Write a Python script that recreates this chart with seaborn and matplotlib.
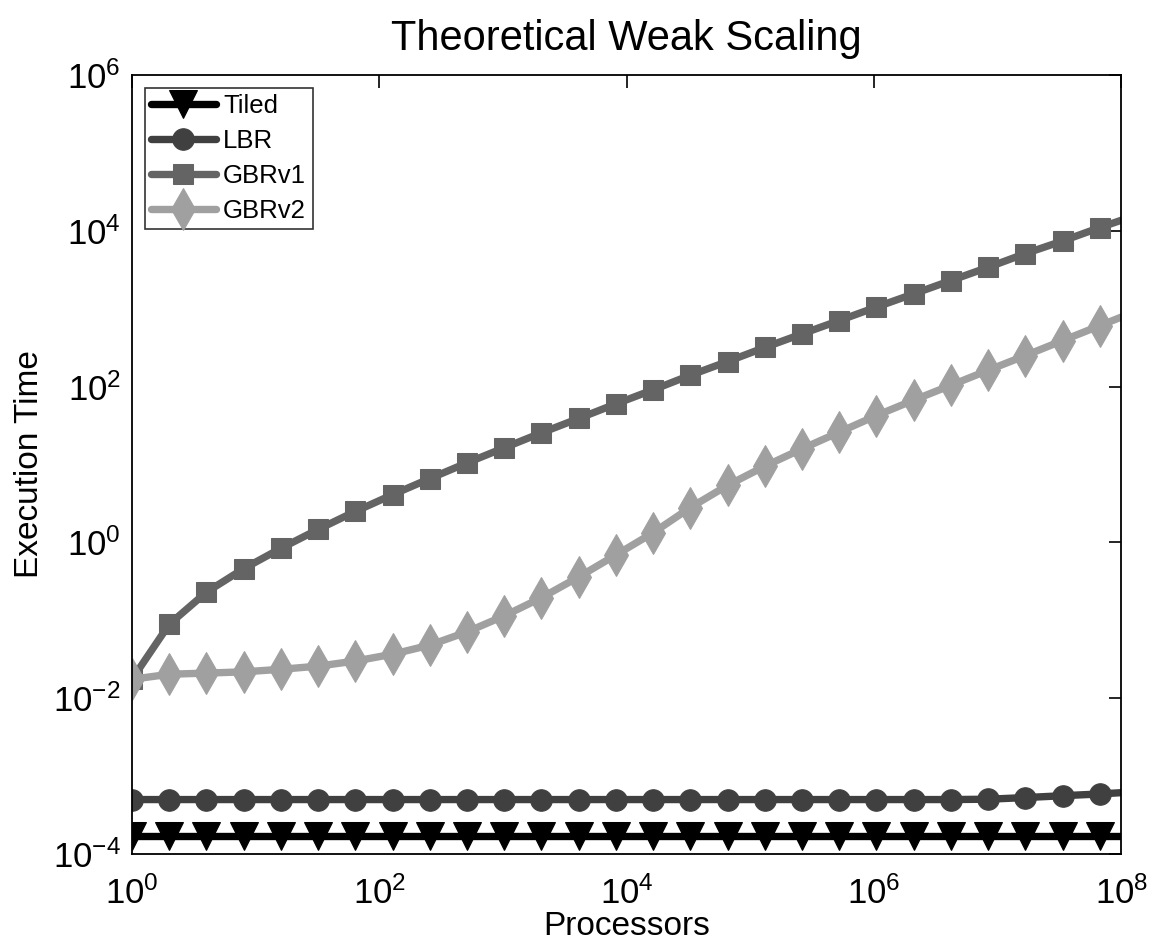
import numpy as np
import pandas as pd
import matplotlib
matplotlib.use("Agg")
import matplotlib.pyplot as plt
from matplotlib.ticker import FuncFormatter
import seaborn as sns

# ----------------------------------------------------------
# DATA
# ----------------------------------------------------------

processors = [2 ** k for k in range(28)]

tiled = [1.7e-4] * 28

lbr = [5.0e-4] * 23 + [5.05e-4, 5.3e-4, 5.6e-4, 5.9e-4, 6.3e-4]

gbrv1 = [0.0175, 0.089, 0.23, 0.46, 0.84, 1.47, 2.5, 4.1, 6.6, 10.5,
         16.4, 25.5, 39, 60, 91, 140, 210, 318, 475, 705,
         1050, 1550, 2300, 3400, 5100, 7400, 11000, 16000]

gbrv2 = [0.0175, 0.0203, 0.021, 0.0218, 0.0235, 0.0258, 0.030, 0.0367, 0.048, 0.071,
         0.114, 0.195, 0.36, 0.69, 1.33, 2.8, 5.4, 9.5, 15.9, 26,
         42.5, 67, 104, 162, 250, 390, 605, 940]

series_names = ["Tiled", "LBR", "GBRv1", "GBRv2"]

# ----------------------------------------------------------
# STYLE
# ----------------------------------------------------------

sns.set_style("white")
plt.rcParams['font.family'] = ['Liberation Sans', 'DejaVu Sans']
plt.rcParams['mathtext.fontset'] = 'custom'
plt.rcParams['mathtext.rm'] = 'Liberation Sans'
plt.rcParams['mathtext.it'] = 'Liberation Sans'
plt.rcParams['text.color'] = 'black'
plt.rcParams['axes.labelcolor'] = 'black'

styles = {
    "Tiled": dict(color="#000000", marker="v", markersize=20),
    "LBR":   dict(color="#404040", marker="o", markersize=15.5),
    "GBRv1": dict(color="#646464", marker="s", markersize=14),
    "GBRv2": dict(color="#a0a0a0", marker="d", markersize=21),
}

df = pd.DataFrame({
    "Processors": processors * 4,
    "Time": tiled + lbr + gbrv1 + gbrv2,
    "Method": sum([[n] * len(processors) for n in series_names], []),
})

# ----------------------------------------------------------
# PLOT
# ----------------------------------------------------------

fig = plt.figure(figsize=(11.51, 9.47), dpi=100)
ax = fig.add_axes([0.1147, 0.0982, 0.8594, 0.8226])

for name in series_names:
    st = styles[name]
    sub = df[df["Method"] == name]
    sns.lineplot(
        data=sub, x="Processors", y="Time", ax=ax,
        color=st["color"], marker=st["marker"], markersize=st["markersize"],
        markeredgecolor=st["color"], markerfacecolor=st["color"],
        linewidth=5.3, label=name,
    )

ax.set_xscale("log")
ax.set_yscale("log")
ax.set_xlim(1, 1e8)
ax.set_ylim(1e-4, 1e6)
ax.set_xticks([1e0, 1e2, 1e4, 1e6, 1e8])
ax.set_yticks([1e-4, 1e-2, 1e0, 1e2, 1e4, 1e6])
ax.minorticks_off()

pow_fmt = FuncFormatter(lambda v, pos: r"$\mathregular{10^{%d}}$" % round(np.log10(v)))
ax.xaxis.set_major_formatter(pow_fmt)
ax.yaxis.set_major_formatter(pow_fmt)

ax.tick_params(direction="in", length=9, width=1.2, top=True, right=True,
               labelsize=25, colors="black")
ax.tick_params(axis="x", pad=16)
ax.tick_params(axis="y", pad=8)
for sp in ax.spines.values():
    sp.set_visible(True)
    sp.set_color("black")
    sp.set_linewidth(1.3)

ax.set_title("Theoretical Weak Scaling", fontsize=30, pad=18)
ax.set_xlabel("Processors", fontsize=24, labelpad=0)
ax.set_ylabel("Execution Time", fontsize=24, labelpad=6)

leg = ax.legend(loc="upper left", fontsize=18.5, frameon=True, fancybox=False,
                edgecolor="black", handlelength=2.5, handletextpad=0.3,
                borderpad=0.25, labelspacing=0.42, borderaxespad=0.5)
leg.get_frame().set_linewidth(1.2)

fig.savefig("out.png", dpi=100, facecolor="white")
